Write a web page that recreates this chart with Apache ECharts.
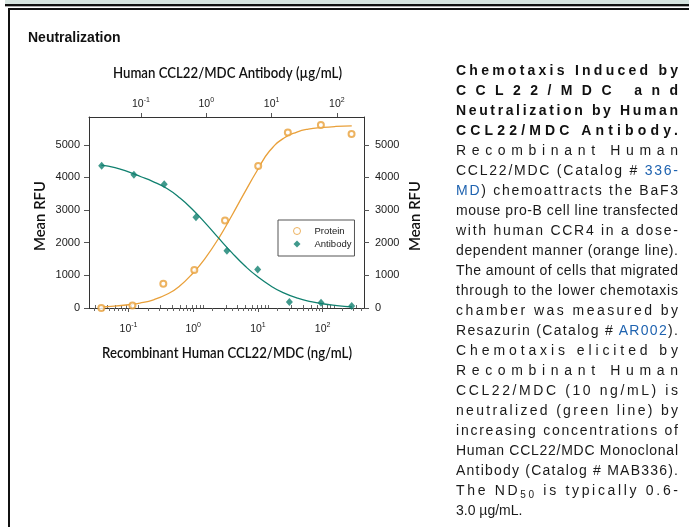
<!DOCTYPE html>
<html>
<head>
<meta charset="utf-8">
<script src="https://cdn.jsdelivr.net/npm/echarts@6/dist/echarts.min.js"></script>
<style>
html,body{margin:0;padding:0;background:#fff;}
#wrap{position:relative;width:689px;height:527px;overflow:hidden;background:#fff;}
#chart{position:absolute;left:0;top:0;width:689px;height:527px;}
.band{position:absolute;left:5px;top:0;width:684px;height:4px;background:#d6e4df;}
.l1{position:absolute;left:5px;top:4px;width:684px;height:2px;background:#111;}
.l2{position:absolute;left:5px;top:6px;width:684px;height:1px;background:#b0b0b0;}
.l3{position:absolute;left:8px;top:8px;width:681px;height:2px;background:#111;}
.vl{position:absolute;left:8px;top:8px;width:2px;height:519px;background:#111;}
#title{position:absolute;left:28px;top:29px;font:bold 14px 'Liberation Sans',Arial,sans-serif;color:#111;white-space:nowrap;}
#cap{position:absolute;left:456px;top:60px;width:222px;font:14px 'Liberation Sans',Arial,sans-serif;color:#1a1a1a;}
#cap .ln{white-space:nowrap;height:20px;line-height:20px;}
#cap .ln span{display:inline-block;white-space:nowrap;}
#cap b{font-weight:bold;color:#111;}
#cap a{color:#1f63b0;text-decoration:none;}
#cap sub{font-size:10px;line-height:0;vertical-align:-3px;}
</style>
</head>
<body>
<div id="wrap">
  <div class="band"></div><div class="l1"></div><div class="l2"></div><div class="l3"></div><div class="vl"></div>
  <div id="chart"></div>
  <div id="title">Neutralization</div>
  <div id="cap">
    <div class="ln"><span><b>Chemotaxis Induced by</b></span></div>
    <div class="ln"><span><b>CCL22/MDC and</b></span></div>
    <div class="ln"><span><b>Neutralization by Human</b></span></div>
    <div class="ln"><span><b>CCL22/MDC Antibody.</b></span></div>
    <div class="ln"><span>Recombinant Human</span></div>
    <div class="ln"><span>CCL22/MDC (Catalog # <a>336-</a></span></div>
    <div class="ln"><span><a>MD</a>) chemoattracts the BaF3</span></div>
    <div class="ln"><span>mouse pro-B cell line transfected</span></div>
    <div class="ln"><span>with human CCR4 in a dose-</span></div>
    <div class="ln"><span>dependent manner (orange line).</span></div>
    <div class="ln"><span>The amount of cells that migrated</span></div>
    <div class="ln"><span>through to the lower chemotaxis</span></div>
    <div class="ln"><span>chamber was measured by</span></div>
    <div class="ln"><span>Resazurin (Catalog # <a>AR002</a>).</span></div>
    <div class="ln"><span>Chemotaxis elicited by</span></div>
    <div class="ln"><span>Recombinant Human</span></div>
    <div class="ln"><span>CCL22/MDC (10 ng/mL) is</span></div>
    <div class="ln"><span>neutralized (green line) by</span></div>
    <div class="ln"><span>increasing concentrations of</span></div>
    <div class="ln"><span>Human CCL22/MDC Monoclonal</span></div>
    <div class="ln"><span>Antibody (Catalog # MAB336).</span></div>
    <div class="ln"><span>The ND<sub>50</sub> is typically 0.6-</span></div>
    <div class="ln last"><span>3.0 µg/mL.</span></div>
  </div>
</div>
<script>
// ---------- data ----------
const proteinConc = [0.038, 0.115, 0.345, 1.04, 3.1, 10.1, 29, 94, 280];          // ng/mL
const proteinRFU  = [0, 80, 743, 1162, 2680, 4350, 5375, 5605, 5330];
const antibodyConc = [0.025, 0.078, 0.227, 0.695, 2.07, 6.12, 18.7, 57.1, 168.6]; // µg/mL
const antibodyRFU  = [4360, 4080, 3790, 2783, 1756, 1177, 180, 162, 58];
const proteinFitConc = [0.038, 0.06, 0.1, 0.15, 0.25, 0.4, 0.6, 1, 1.5, 2.5, 4, 6, 10, 15, 25, 40, 60, 100, 160, 282];
const proteinFitRFU  = [30, 55, 100, 150, 260, 430, 650, 1080, 1500, 2150, 2850, 3480, 4250, 4800, 5200, 5390, 5480, 5530, 5560, 5580];
const antibodyFitConc = [0.0247, 0.04, 0.06, 0.1, 0.15, 0.25, 0.4, 0.6, 1, 1.5, 2.5, 4, 6, 10, 15, 25, 40, 60, 100, 170];
const antibodyFitRFU  = [4375, 4300, 4190, 4020, 3880, 3660, 3360, 3040, 2570, 2170, 1680, 1270, 970, 660, 470, 300, 195, 130, 75, 30];
const yTicks = [0, 1000, 2000, 3000, 4000, 5000];
const decadeExponents = [-1, 0, 1, 2];
const bottomRange = [0.0245, 436];   // ng/mL
const topRange = [0.016, 260];       // µg/mL
const yRange = [0, 5850];
const titleTop = 'Human CCL22/MDC Antibody (\u00b5g/mL)';
const titleBottom = 'Recombinant Human CCL22/MDC (ng/mL)';
const titleY = 'Mean RFU';

// ---------- styles ----------
const ORANGE = '#e9a03a';
const TEAL = '#10806f';
const AXIS = '#333';
const TICKFONT = "'Liberation Sans',Arial,sans-serif";
const TITLEFONT = "Lato,'Liberation Sans',sans-serif";

const L = Math.log10;
function minorTicks(range){
  const out = [];
  for (let d = -3; d <= 3; d++) for (let k = 2; k <= 9; k++) {
    const v = k * Math.pow(10, d);
    if (v >= range[0] && v <= range[1]) out.push(L(v));
  }
  return out;
}
const supRich = {
  b: {fontSize: 10.5, fontFamily: TICKFONT, color: '#1a1a1a'},
  s: {fontSize: 7, fontFamily: TICKFONT, color: '#1a1a1a', padding: [0, 0, 8, 0]}
};
function expLabel(v){ return '{b|10}{s|' + Math.round(v) + '}'; }

function mainX(pos, range, margin){
  return {
    type: 'value', position: pos, min: L(range[0]), max: L(range[1]),
    axisLine: {show: true, onZero: false, lineStyle: {color: AXIS, width: 1}},
    axisTick: {show: true, customValues: decadeExponents, length: 4, lineStyle: {color: '#555'}},
    axisLabel: {show: true, customValues: decadeExponents, formatter: expLabel, rich: supRich, margin: margin},
    splitLine: {show: false}
  };
}
function minorX(pos, range){
  return {
    type: 'value', position: pos, min: L(range[0]), max: L(range[1]),
    axisLine: {show: false},
    axisTick: {show: true, customValues: minorTicks(range), length: 3, lineStyle: {color: '#666'}},
    axisLabel: {show: false}, splitLine: {show: false}
  };
}
function yAx(pos, margin){
  return {
    type: 'value', position: pos, min: yRange[0], max: yRange[1],
    axisLine: {show: true, onZero: false, lineStyle: {color: AXIS, width: 1}},
    axisTick: {show: true, customValues: yTicks, length: 5, lineStyle: {color: '#555'}},
    axisLabel: {customValues: yTicks, formatter: v => String(v), fontSize: 11, fontFamily: TICKFONT, color: '#1a1a1a', margin: margin},
    splitLine: {show: false}
  };
}

// horizontal condensing of the axis titles to the reference widths
const ctx = document.createElement('canvas').getContext('2d');
function squeeze(text, size, target){
  ctx.font = '600 ' + size + 'px ' + TITLEFONT;
  return target / ctx.measureText(text).width;
}
function titleText(text, x, y, target, rot){
  return {
    type: 'text', x: x, y: y, rotation: rot || 0, scaleX: squeeze(text, 16, target), z: 10,
    style: {text: text, font: '600 16px ' + TITLEFONT, fill: '#111', align: 'center', verticalAlign: 'middle'}
  };
}

const chart = echarts.init(document.getElementById('chart'), null, {renderer: 'canvas'});
chart.setOption({
  animation: false,
  backgroundColor: 'transparent',
  grid: {left: 89, top: 117, width: 275, height: 191, containLabel: false},
  xAxis: [
    mainX('bottom', bottomRange, 14),
    mainX('top', topRange, 5),
    minorX('bottom', bottomRange),
    minorX('top', topRange)
  ],
  yAxis: [ yAx('left', 9), yAx('right', 11) ],
  legend: {
    left: 278, top: 220, orient: 'vertical',
    padding: [6, 3, 7, 15], itemGap: 3, itemWidth: 7, itemHeight: 7,
    borderColor: '#555', borderWidth: 1, backgroundColor: '#fff',
    textStyle: {fontSize: 9.5, fontFamily: TICKFONT, color: '#1a1a1a',
      rich: {t: {fontSize: 9.5, fontFamily: TICKFONT, color: '#1a1a1a', padding: [0, 0, 0, 9]}}},
    formatter: name => '{t|' + name + '}',
    data: [
      {name: 'Protein', icon: 'circle', itemStyle: {color: '#fff', borderColor: ORANGE, borderWidth: 1}},
      {name: 'Antibody', icon: 'diamond', itemStyle: {color: TEAL}}
    ]
  },
  graphic: [
    titleText(titleTop, 227.5, 73, 229),
    titleText(titleBottom, 227, 353, 250),
    titleText(titleY, 40, 216, 70, Math.PI / 2),
    titleText(titleY, 415, 216, 70, Math.PI / 2)
  ],
  series: [
    {name: 'Protein fit', type: 'line', xAxisIndex: 0, yAxisIndex: 0, smooth: true, showSymbol: false,
     lineStyle: {color: ORANGE, width: 1.3}, itemStyle: {color: ORANGE}, z: 2,
     data: proteinFitConc.map((c, i) => [L(c), proteinFitRFU[i]])},
    {name: 'Antibody fit', type: 'line', xAxisIndex: 1, yAxisIndex: 0, smooth: true, showSymbol: false,
     lineStyle: {color: TEAL, width: 1.3}, itemStyle: {color: TEAL}, z: 2,
     data: antibodyFitConc.map((c, i) => [L(c), antibodyFitRFU[i]])},
    {name: 'Protein', type: 'scatter', xAxisIndex: 0, yAxisIndex: 0, symbol: 'emptyCircle', symbolSize: 6,
     itemStyle: {color: ORANGE, borderWidth: 1}, z: 4,
     data: proteinConc.map((c, i) => [L(c), proteinRFU[i]])},
    {name: 'Antibody', type: 'scatter', xAxisIndex: 1, yAxisIndex: 0, symbol: 'diamond', symbolSize: [7, 8],
     itemStyle: {color: TEAL}, z: 4,
     data: antibodyConc.map((c, i) => [L(c), antibodyRFU[i]])}
  ]
});

// inter-character justification of the caption lines
const TARGET = 222;
document.querySelectorAll('#cap .ln').forEach(function(ln){
  if (ln.classList.contains('last')) return;
  const sp = ln.querySelector('span');
  sp.style.letterSpacing = '0px';
  const w = sp.getBoundingClientRect().width;
  const n = sp.textContent.length;
  if (n > 1) sp.style.letterSpacing = ((TARGET - w) / (n - 1)).toFixed(3) + 'px';
});
</script>
</body>
</html>
